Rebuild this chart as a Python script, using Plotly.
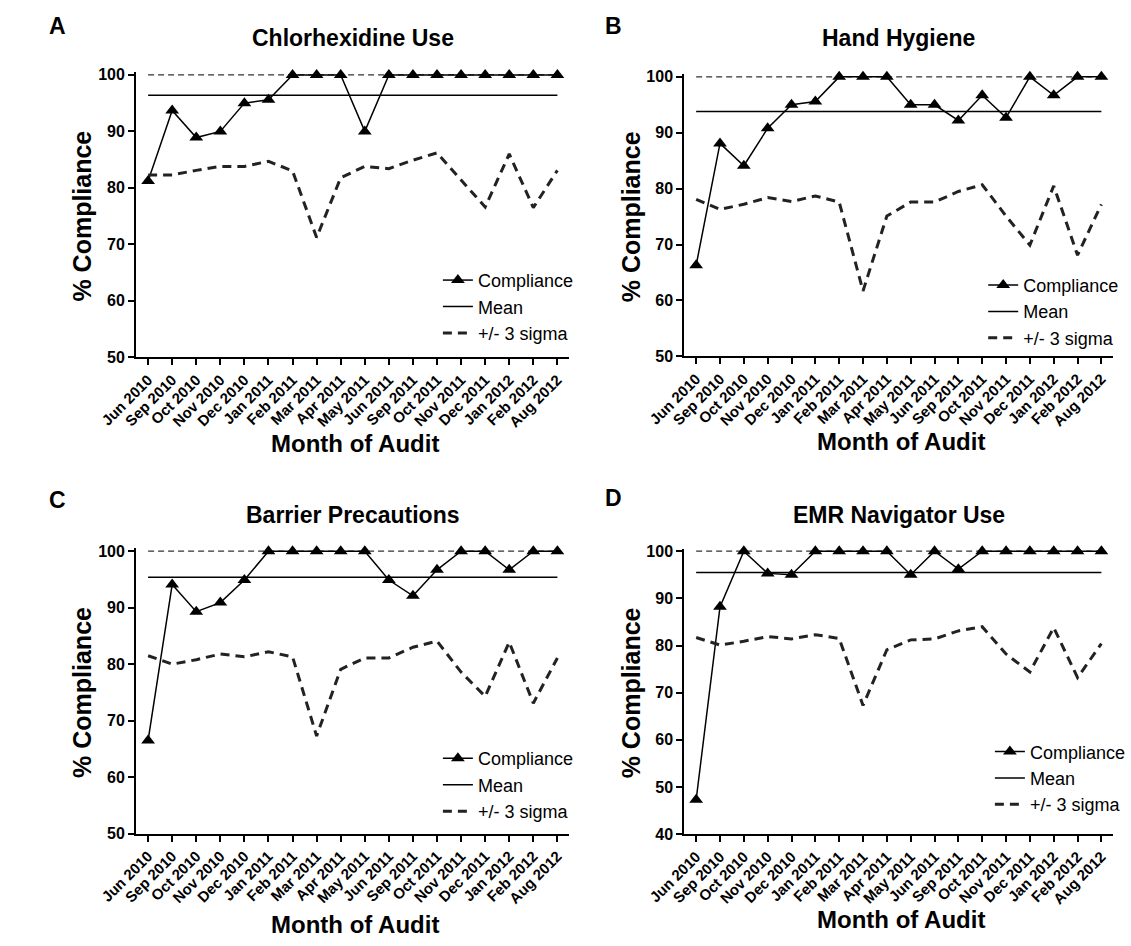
import plotly.graph_objects as go

months = ["Jun 2010", "Sep 2010", "Oct 2010", "Nov 2010", "Dec 2010", "Jan 2011",
          "Feb 2011", "Mar 2011", "Apr 2011", "May 2011", "Jun 2011", "Sep 2011",
          "Oct 2011", "Nov 2011", "Dec 2011", "Jan 2012", "Feb 2012", "Aug 2012"]

titles = ["Chlorhexidine Use", "Hand Hygiene", "Barrier Precautions", "EMR Navigator Use"]
letters = ["A", "B", "C", "D"]

chg_compliance = [81.2, 93.7, 88.9, 90.0, 95.0, 95.6, 100, 100, 100, 90.0, 100, 100, 100, 100, 100, 100, 100, 100]
chg_mean = 96.4
chg_lower = [82.3, 82.3, 83.1, 83.8, 83.8, 84.7, 83.0, 71.2, 81.8, 83.8, 83.4, 84.9, 86.2, 81.4, 76.6, 86.0, 76.5, 83.1]

hh_compliance = [66.3, 88.1, 84.1, 90.8, 95.0, 95.6, 100, 100, 100, 95.0, 95.0, 92.2, 96.7, 92.7, 100, 96.7, 100, 100]
hh_mean = 93.8
hh_lower = [78.1, 76.3, 77.2, 78.4, 77.7, 78.7, 77.6, 61.7, 75.1, 77.6, 77.6, 79.5, 80.7, 75.1, 69.9, 80.5, 68.1, 77.2]

bp_compliance = [66.5, 94.1, 89.3, 90.9, 94.9, 100, 100, 100, 100, 100, 94.9, 92.1, 96.7, 100, 100, 96.7, 100, 100]
bp_mean = 95.4
bp_lower = [81.5, 80.0, 80.8, 81.8, 81.3, 82.2, 81.3, 67.3, 79.1, 81.1, 81.1, 83.0, 84.1, 78.6, 74.3, 83.9, 73.1, 81.1]

emr_compliance = [47.3, 88.2, 100, 95.3, 95.0, 100, 100, 100, 100, 95.0, 100, 96.2, 100, 100, 100, 100, 100, 100]
emr_mean = 95.5
emr_lower = [81.7, 80.1, 80.9, 81.9, 81.4, 82.3, 81.5, 67.3, 79.1, 81.2, 81.4, 83.1, 84.0, 78.2, 74.4, 83.8, 73.2, 80.4]

upper_limit = 100
y_mins = [50, 50, 50, 40]
y_ticks = [[50, 60, 70, 80, 90, 100]] * 3 + [[40, 50, 60, 70, 80, 90, 100]]

panels = [
    (chg_compliance, chg_mean, chg_lower),
    (hh_compliance, hh_mean, hh_lower),
    (bp_compliance, bp_mean, bp_lower),
    (emr_compliance, emr_mean, emr_lower),
]

W, H = 1131, 946
FONT = "Liberation Sans, Arial, sans-serif"

# plot-area pixel boxes: (left, right, top_at_100, bottom)
boxes = [
    (102.5, 555.5, 70.0, 357.0),
    (675.5, 1124.0, 72.0, 356.0),
    (102.5, 555.5, 554.0, 841.0),
    (675.5, 1124.0, 554.0, 841.5),
]
legend_pos = [(418, 260), (988, 265), (418, 746), (995, 739)]
letter_pos = [(20, 20), (602, 20), (20, 502), (602, 500)]
title_y = [33, 33, 517, 517]
xtitle_y = [445, 443, 933, 928]

fig = go.Figure()
layout = dict(
    width=W, height=H,
    margin=dict(l=0, r=0, t=0, b=0),
    paper_bgcolor="white", plot_bgcolor="white",
    font=dict(family=FONT, color="black"),
    hovermode=False,
    annotations=[],
)

top_pad = 0.5
for i, (comp, mean, lower) in enumerate(panels):
    n = "" if i == 0 else str(i + 1)
    xa, ya = "x" + n, "y" + n
    leg = "legend" + n
    left, right, ytop, ybot = boxes[i]
    ymin = y_mins[i]
    ppu = (ybot - ytop) / (100 - ymin)
    ytop_pad = ytop - top_pad * ppu

    fig.add_trace(go.Scatter(
        x=[months[0], months[-1]], y=[upper_limit, upper_limit], xaxis=xa, yaxis=ya,
        mode="lines", line=dict(color="#333333", width=1.3, dash="6px,4px"),
        showlegend=False, legend=leg, hoverinfo="skip", cliponaxis=False))
    fig.add_trace(go.Scatter(
        x=months, y=comp, xaxis=xa, yaxis=ya, name="Compliance",
        mode="lines+markers", line=dict(color="black", width=1.5),
        marker=dict(symbol="triangle-up", size=12, color="black"),
        legend=leg, cliponaxis=False))
    fig.add_trace(go.Scatter(
        x=[months[0], months[-1]], y=[mean, mean], xaxis=xa, yaxis=ya, name="Mean",
        mode="lines", line=dict(color="black", width=1.5),
        legend=leg, cliponaxis=False))
    fig.add_trace(go.Scatter(
        x=months, y=lower, xaxis=xa, yaxis=ya, name="+/- 3 sigma",
        mode="lines", line=dict(color="#222222", width=3, dash="9px,6px"),
        legend=leg, cliponaxis=False))

    layout["xaxis" + n] = dict(
        domain=[left / W, right / W], anchor=ya, type="category",
        categoryorder="array", categoryarray=months,
        range=[-0.5, len(months) - 0.5],
        showline=True, linecolor="black", linewidth=2,
        ticks="outside", ticklen=6, tickwidth=2, tickcolor="black",
        tickangle=-45, showgrid=False, zeroline=False,
        tickfont=dict(family=FONT, size=15, weight="bold", color="black"),
    )
    layout["yaxis" + n] = dict(
        domain=[1 - ybot / H, 1 - ytop_pad / H], anchor=xa,
        range=[ymin, 100 + top_pad], tickvals=y_ticks[i],
        showline=True, linecolor="black", linewidth=2,
        ticks="outside", ticklen=6, tickwidth=2, tickcolor="black",
        showgrid=False, zeroline=False,
        tickfont=dict(family=FONT, size=16, weight="bold", color="black"),
    )
    lx, ly = legend_pos[i]
    layout[leg] = dict(
        x=lx / W, y=1 - ly / H, xanchor="left", yanchor="top",
        xref="paper", yref="paper",
        bgcolor="rgba(0,0,0,0)", borderwidth=0,
        font=dict(family=FONT, size=18, color="black"),
        tracegroupgap=0, itemwidth=30,
    )
    cx = (left + right) / 2
    layout["annotations"] += [
        dict(text=letters[i], x=letter_pos[i][0] / W, y=1 - letter_pos[i][1] / H,
             xref="paper", yref="paper", showarrow=False, xanchor="center", yanchor="middle",
             font=dict(family=FONT, size=23, weight="bold")),
        dict(text=titles[i], x=cx / W, y=1 - title_y[i] / H,
             xref="paper", yref="paper", showarrow=False, xanchor="center", yanchor="middle",
             font=dict(family=FONT, size=23, weight="bold")),
        dict(text="% Compliance", x=(left - 56) / W, y=1 - ((ytop + ybot) / 2) / H,
             xref="paper", yref="paper", showarrow=False, xanchor="center", yanchor="middle",
             textangle=-90, font=dict(family=FONT, size=25, weight="bold")),
        dict(text="Month of Audit", x=(cx + 2) / W, y=1 - xtitle_y[i] / H,
             xref="paper", yref="paper", showarrow=False, xanchor="center", yanchor="middle",
             font=dict(family=FONT, size=24, weight="bold")),
    ]

fig.update_layout(**layout)
fig.write_html(
    "out.html",
    config={"displayModeBar": False},
    post_script="document.body.style.margin='0';document.body.style.overflow='hidden';",
)
